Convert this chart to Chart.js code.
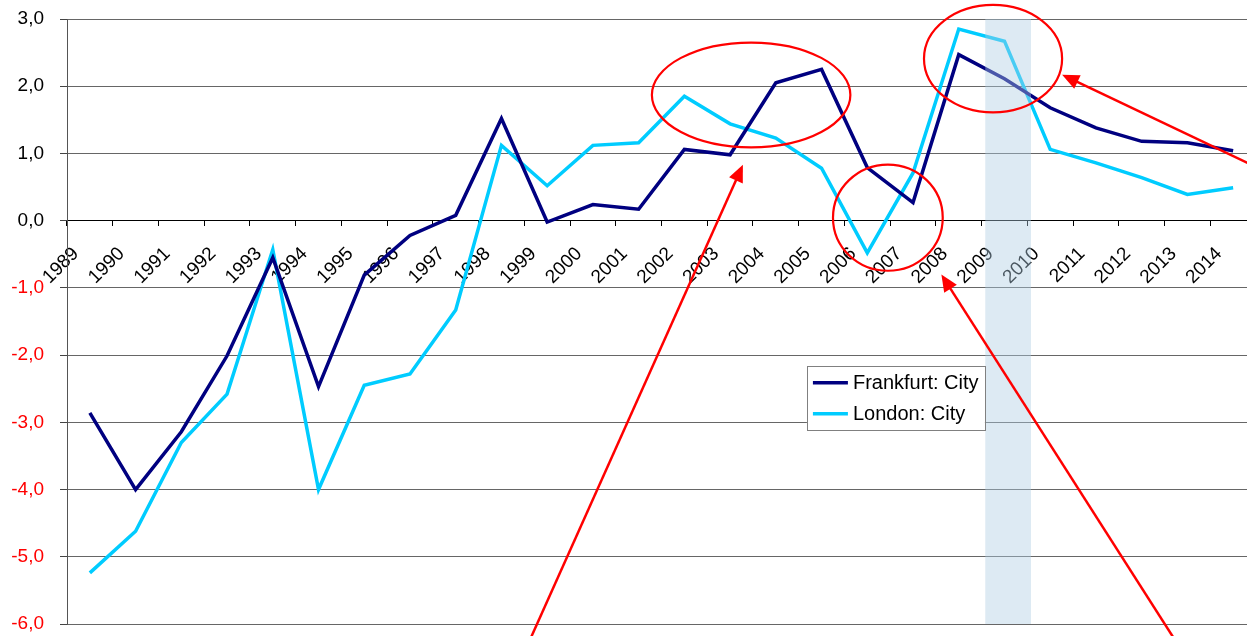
<!DOCTYPE html>
<html>
<head>
<meta charset="utf-8">
<script src="https://cdn.jsdelivr.net/npm/chart.js@4"></script>
<style>
  html, body { margin: 0; padding: 0; background: #fff; overflow: hidden; }
  #wrap { width: 1260px; height: 636px; }
</style>
</head>
<body>
<div id="wrap"><canvas id="c" width="1260" height="636" style="width:1260px;height:636px"></canvas></div>
<script>
// ---- data ----
const years = ['1989','1990','1991','1992','1993','1994','1995','1996','1997','1998','1999','2000','2001',
               '2002','2003','2004','2005','2006','2007','2008','2009','2010','2011','2012','2013','2014'];
const frankfurtCity = [-2.86, -4.00, -3.14, -2.01, -0.55, -2.47, -0.81, -0.22, 0.08, 1.52, -0.02, 0.24, 0.17,
                       1.06, 0.98, 2.05, 2.25, 0.79, 0.27, 2.47, 2.11, 1.68, 1.38, 1.18, 1.16, 1.04];
const londonCity = [-5.24, -4.62, -3.30, -2.58, -0.43, -4.00, -2.45, -2.28, -1.33, 1.12, 0.52, 1.12, 1.16,
                    1.85, 1.44, 1.23, 0.78, -0.48, 0.71, 2.85, 2.67, 1.06, 0.86, 0.64, 0.39, 0.49];
const seriesNames = ['Frankfurt: City', 'London: City'];
const yMin = -6, yMax = 3, yStep = 1;
const shadedYear = '2009';

// ---- annotations (in data units: category index / value) ----
const ellipses = [
  { cx: 14.46, cy: 1.87, rx: 2.17, ry: 0.78 },
  { cx: 17.45, cy: 0.045, rx: 1.20, ry: 0.79 },
  { cx: 19.75, cy: 2.41, rx: 1.51, ry: 0.80 }
];
const arrows = [
  { x0: 9.62, y0: -6.24, x1: 14.28, y1: 0.83 },
  { x0: 23.73, y0: -6.24, x1: 18.62, y1: -0.80 },
  { x0: 25.59, y0: 0.77, x1: 21.26, y1: 2.17 }
];

const FONT = "'Liberation Sans', Arial, sans-serif";
const colors = ['#000080', '#00CCFF'];

const overlayPlugin = {
  id: 'overlay',
  afterDraw(chart) {
    const { ctx, chartArea, scales } = chart;
    const x = scales.x, y = scales.y;
    const cw = x.getPixelForValue(1) - x.getPixelForValue(0);
    const xi = (v) => x.getPixelForValue(0) + v * cw;
    ctx.save();
    // shaded band
    const bi = years.indexOf(shadedYear);
    const bc = x.getPixelForValue(bi);
    ctx.fillStyle = 'rgba(173,206,226,0.42)';
    ctx.fillRect(bc - 0.42 * cw, chartArea.top, cw, chartArea.bottom - chartArea.top);
    // legend
    const lx = chartArea.left + (chartArea.right - chartArea.left) * 0.6223;
    const ly = y.getPixelForValue(-2.16);
    const lw = 178, lh = 64;
    ctx.fillStyle = '#fff';
    ctx.fillRect(lx, ly, lw, lh);
    ctx.strokeStyle = '#808080';
    ctx.lineWidth = 1;
    ctx.strokeRect(Math.round(lx) + 0.5, Math.round(ly) + 0.5, lw, lh);
    ctx.font = '20px ' + FONT;
    ctx.textBaseline = 'middle';
    ctx.textAlign = 'left';
    seriesNames.forEach((n, i) => {
      const yy = ly + 17 + i * 31;
      ctx.strokeStyle = colors[i];
      ctx.lineWidth = 3.5;
      ctx.beginPath();
      ctx.moveTo(lx + 6, yy);
      ctx.lineTo(lx + 41, yy);
      ctx.stroke();
      ctx.fillStyle = '#000';
      ctx.fillText(n, lx + 46, yy + 1);
    });
    // ellipses
    ctx.strokeStyle = '#FF0000';
    ctx.lineWidth = 2.2;
    ellipses.forEach(e => {
      const cx = xi(e.cx), cy = y.getPixelForValue(e.cy);
      const rx = e.rx * cw, ry = Math.abs(y.getPixelForValue(e.cy + e.ry) - cy);
      ctx.beginPath();
      ctx.ellipse(cx, cy, rx, ry, 0, 0, Math.PI * 2);
      ctx.stroke();
    });
    // arrows
    arrows.forEach(a => {
      const X0 = xi(a.x0), Y0 = y.getPixelForValue(a.y0);
      const X1 = xi(a.x1), Y1 = y.getPixelForValue(a.y1);
      const ang = Math.atan2(Y1 - Y0, X1 - X0);
      const hl = 17, hw = 7.5;
      const bx = X1 - hl * Math.cos(ang), by = Y1 - hl * Math.sin(ang);
      ctx.strokeStyle = '#FF0000';
      ctx.lineWidth = 2.5;
      ctx.beginPath();
      ctx.moveTo(X0, Y0);
      ctx.lineTo(bx + 2 * Math.cos(ang), by + 2 * Math.sin(ang));
      ctx.stroke();
      ctx.fillStyle = '#FF0000';
      ctx.beginPath();
      ctx.moveTo(X1, Y1);
      ctx.lineTo(bx + hw * Math.sin(ang), by - hw * Math.cos(ang));
      ctx.lineTo(bx - hw * Math.sin(ang), by + hw * Math.cos(ang));
      ctx.closePath();
      ctx.fill();
    });
    ctx.restore();
  }
};

new Chart(document.getElementById('c'), {
  type: 'line',
  data: {
    labels: years,
    datasets: [
      { label: seriesNames[0], data: frankfurtCity, borderColor: colors[0], backgroundColor: colors[0],
        borderWidth: 3.5, pointRadius: 0, tension: 0, fill: false },
      { label: seriesNames[1], data: londonCity, borderColor: colors[1], backgroundColor: colors[1],
        borderWidth: 3.5, pointRadius: 0, tension: 0, fill: false }
    ]
  },
  options: {
    responsive: false,
    animation: false,
    events: [],
    layout: { padding: { top: 19, bottom: 12, left: 0, right: 4 } },
    plugins: { legend: { display: false }, tooltip: { enabled: false } },
    scales: {
      x: {
        type: 'category',
        position: { y: 0 },
        offset: true,
        grid: { offset: true, drawOnChartArea: false, drawTicks: true, tickLength: 19, color: '#000',
                lineWidth: 1, tickBorderDash: [5, 100] },
        border: { display: true, color: '#000', width: 1 },
        ticks: {
          autoSkip: false, minRotation: 45, maxRotation: 45, padding: 3, labelOffset: -14,
          color: '#000', font: { family: FONT, size: 19 }
        }
      },
      y: {
        min: yMin, max: yMax,
        afterFit(scale) { scale.width = 67; },
        grid: {
          color: (c) => (c.tick && c.tick.value === 0 ? '#000' : '#666'),
          lineWidth: 1, tickLength: 23, drawTicks: true,
          tickColor: '#444', tickBorderDash: [0, 16, 7, 100]
        },
        border: { display: true, color: '#555', width: 1 },
        ticks: {
          stepSize: yStep, padding: 0,
          font: { family: FONT, size: 19 },
          color: (c) => (c.tick && c.tick.value < 0 ? '#FF0000' : '#000'),
          callback: (v) => Number(v).toFixed(1).replace('.', ',')
        }
      }
    }
  },
  plugins: [overlayPlugin]
});
</script>
</body>
</html>
